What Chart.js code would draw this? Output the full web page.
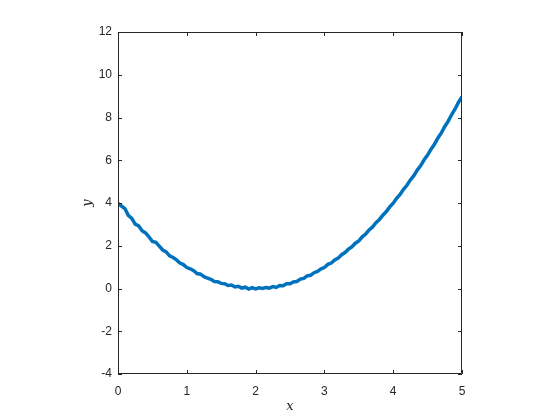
<!DOCTYPE html>
<html lang="en">
<head>
    <meta charset="UTF-8">
    <title>Noisy parabola</title>
    <script src="https://cdn.jsdelivr.net/npm/chart.js"></script>
    <style>
        html, body { margin: 0; padding: 0; background: #fff; }
        #wrap { width: 560px; height: 420px; }
    </style>
</head>
<body>
    <div id="wrap"><canvas id="chart" width="560" height="420"></canvas></div>

    <script>
        // values
        const xValues = [
            0.00, 0.05, 0.10, 0.15, 0.20, 0.25, 0.30, 0.35, 0.40, 0.45,
            0.50, 0.55, 0.60, 0.65, 0.70, 0.75, 0.80, 0.85, 0.90, 0.95,
            1.00, 1.05, 1.10, 1.15, 1.20, 1.25, 1.30, 1.35, 1.40, 1.45,
            1.50, 1.55, 1.60, 1.65, 1.70, 1.75, 1.80, 1.85, 1.90, 1.95,
            2.00, 2.05, 2.10, 2.15, 2.20, 2.25, 2.30, 2.35, 2.40, 2.45,
            2.50, 2.55, 2.60, 2.65, 2.70, 2.75, 2.80, 2.85, 2.90, 2.95,
            3.00, 3.05, 3.10, 3.15, 3.20, 3.25, 3.30, 3.35, 3.40, 3.45,
            3.50, 3.55, 3.60, 3.65, 3.70, 3.75, 3.80, 3.85, 3.90, 3.95,
            4.00, 4.05, 4.10, 4.15, 4.20, 4.25, 4.30, 4.35, 4.40, 4.45,
            4.50, 4.55, 4.60, 4.65, 4.70, 4.75, 4.80, 4.85, 4.90, 4.95,
            5.00
        ];
        const yValues = [
            3.98, 3.86, 3.74, 3.42, 3.28, 3.01, 2.93, 2.70, 2.60, 2.42,
            2.20, 2.16, 1.98, 1.80, 1.71, 1.53, 1.45, 1.34, 1.19, 1.12,
            0.98, 0.92, 0.83, 0.70, 0.67, 0.55, 0.49, 0.43, 0.33, 0.32,
            0.24, 0.22, 0.14, 0.16, 0.07, 0.10, 0.02, 0.06, -0.03, 0.04,
            -0.02, 0.03, 0.00, 0.05, 0.02, 0.09, 0.05, 0.14, 0.13, 0.22,
            0.22, 0.31, 0.33, 0.44, 0.47, 0.59, 0.62, 0.74, 0.80, 0.92,
            0.98, 1.13, 1.19, 1.34, 1.42, 1.58, 1.68, 1.84, 1.95, 2.12,
            2.23, 2.42, 2.55, 2.74, 2.88, 3.08, 3.23, 3.43, 3.60, 3.82,
            3.99, 4.22, 4.40, 4.64, 4.83, 5.08, 5.28, 5.54, 5.75, 6.02,
            6.24, 6.52, 6.75, 7.04, 7.28, 7.58, 7.83, 8.14, 8.40, 8.72,
            8.97
        ];
        const xRange = [0, 5];
        const yRange = [-4, 12];

        const axisColor = '#262626';
        const tickFont = { family: 'Arial, "Liberation Sans", sans-serif', size: 12 };
        const labelFont = { family: '"DejaVu Serif", serif', style: 'italic', size: 13 };

        // MATLAB style box with inward ticks on all four sides
        const boxTicks = {
            id: 'boxTicks',
            afterDraw(chart) {
                const { ctx, chartArea: a, scales } = chart;
                const len = 4;
                ctx.save();
                ctx.strokeStyle = axisColor;
                ctx.lineWidth = 1;
                ctx.beginPath();
                ctx.rect(a.left + 0.5, a.top + 0.5, a.right - a.left - 1, a.bottom - a.top - 1);
                scales.x.ticks.forEach(t => {
                    const px = Math.round(scales.x.getPixelForValue(t.value)) + 0.5;
                    ctx.moveTo(px, a.bottom); ctx.lineTo(px, a.bottom - len);
                    ctx.moveTo(px, a.top); ctx.lineTo(px, a.top + len);
                });
                scales.y.ticks.forEach(t => {
                    const py = Math.round(scales.y.getPixelForValue(t.value)) + 0.5;
                    ctx.moveTo(a.left, py); ctx.lineTo(a.left + len, py);
                    ctx.moveTo(a.right, py); ctx.lineTo(a.right - len, py);
                });
                ctx.stroke();
                ctx.restore();
            }
        };

        new Chart(document.getElementById('chart'), {
            type: 'line',
            data: {
                datasets: [{
                    data: xValues.map((x, i) => ({ x: x, y: yValues[i] })),
                    borderColor: '#0072BD',
                    borderWidth: 3.5,
                    borderJoinStyle: 'miter',
                    pointRadius: 0,
                    tension: 0,
                    fill: false
                }]
            },
            options: {
                responsive: false,
                animation: false,
                layout: { padding: { left: 80, right: 98, top: 32, bottom: 6 } },
                plugins: { legend: { display: false }, tooltip: { enabled: false } },
                scales: {
                    x: {
                        type: 'linear',
                        min: xRange[0],
                        max: xRange[1],
                        ticks: { stepSize: 1, color: axisColor, font: tickFont, padding: 10 },
                        grid: { display: false, drawTicks: false },
                        border: { display: false },
                        title: { display: true, text: 'x', color: axisColor, font: labelFont, padding: 0 },
                        afterFit: s => { s.height = 40; }
                    },
                    y: {
                        min: yRange[0],
                        max: yRange[1],
                        ticks: { stepSize: 2, color: axisColor, font: tickFont, padding: 6 },
                        grid: { display: false, drawTicks: false },
                        border: { display: false },
                        title: { display: true, text: 'y', color: axisColor, font: labelFont, padding: 0 },
                        afterFit: s => { s.width = 38; }
                    }
                }
            },
            plugins: [boxTicks]
        });
    </script>
</body>
</html>
